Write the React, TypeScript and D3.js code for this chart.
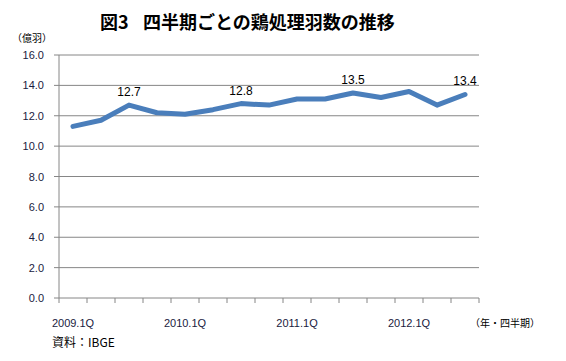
import * as d3 from 'd3';

const quarters = [
  '2009.1Q', '2009.2Q', '2009.3Q', '2009.4Q',
  '2010.1Q', '2010.2Q', '2010.3Q', '2010.4Q',
  '2011.1Q', '2011.2Q', '2011.3Q', '2011.4Q',
  '2012.1Q', '2012.2Q', '2012.3Q',
];
const values = [11.3, 11.7, 12.7, 12.2, 12.1, 12.4, 12.8, 12.7, 13.1, 13.1, 13.5, 13.2, 13.6, 12.7, 13.4];
const labelled = ['2009.3Q', '2010.3Q', '2011.3Q', '2012.3Q'];
const shownTicks = ['2009.1Q', '2010.1Q', '2011.1Q', '2012.1Q'];
const yTicks = [0, 2, 4, 6, 8, 10, 12, 14, 16];

const W = 566;
const H = 361;
const left = 59;
const right = 479;
const top = 55;
const bottom = 298;

const jp = '"Noto Sans CJK JP", sans-serif';
const num = '"Liberation Sans", Arial, sans-serif';
const grid = '#868686';

export default function App() {
  const x = d3.scaleBand<string>().domain(quarters).range([left, right]).padding(0);
  const y = d3.scaleLinear().domain([0, 16]).range([bottom, top]);
  const cx = (q: string) => (x(q) ?? 0) + x.bandwidth() / 2;

  const line = d3.line<number>()
    .x((_, i) => cx(quarters[i]))
    .y(d => y(d));

  const edges = quarters.map(q => x(q) ?? 0).concat([right]);

  return (
    <svg width={W} height={H} style={{ position: 'absolute', left: 0, top: 0, background: '#fff' }}>
      <text x={100} y={29} fontFamily={jp} fontSize={18} fontWeight="bold" fill="#000">
        <tspan>図3</tspan>
        <tspan x={143}>四半期ごとの鶏処理羽数の推移</tspan>
      </text>
      <text x={32} y={42} textAnchor="middle" fontFamily={jp} fontSize={10} fill="#000">（億羽）</text>

      {yTicks.map(t => (
        <g key={t}>
          <line x1={left} x2={right} y1={y(t)} y2={y(t)} stroke={grid} strokeWidth={1} />
          <line x1={left - 5} x2={left} y1={y(t)} y2={y(t)} stroke={grid} strokeWidth={1} />
          <text x={44} y={y(t) + 4} textAnchor="end" fontFamily={num} fontSize={11} fill="#1a1a40">
            {t.toFixed(1)}
          </text>
        </g>
      ))}
      <line x1={left} x2={left} y1={top} y2={bottom} stroke={grid} strokeWidth={1} />

      {edges.map((e, i) => (
        <line key={i} x1={e} x2={e} y1={bottom} y2={bottom + 5} stroke={grid} strokeWidth={1} />
      ))}

      {quarters.filter(q => shownTicks.includes(q)).map(q => (
        <text key={q} x={cx(q)} y={327} textAnchor="middle" fontFamily={num} fontSize={11} fill="#1a1a40">
          {q}
        </text>
      ))}
      <text x={505} y={327} textAnchor="middle" fontFamily={jp} fontSize={10} fill="#000">（年・四半期）</text>
      <text x={52} y={347} fontFamily={jp} fontSize={12} fill="#000">資料：IBGE</text>

      <path d={line(values) ?? ''} fill="none" stroke="#4a7ebb" strokeWidth={5} strokeLinejoin="round" strokeLinecap="round" />

      {quarters.map((q, i) => labelled.includes(q) ? (
        <text key={q} x={cx(q)} y={y(values[i]) - 9} textAnchor="middle" fontFamily={num} fontSize={12} fill="#000">
          {values[i].toFixed(1)}
        </text>
      ) : null)}
    </svg>
  );
}
